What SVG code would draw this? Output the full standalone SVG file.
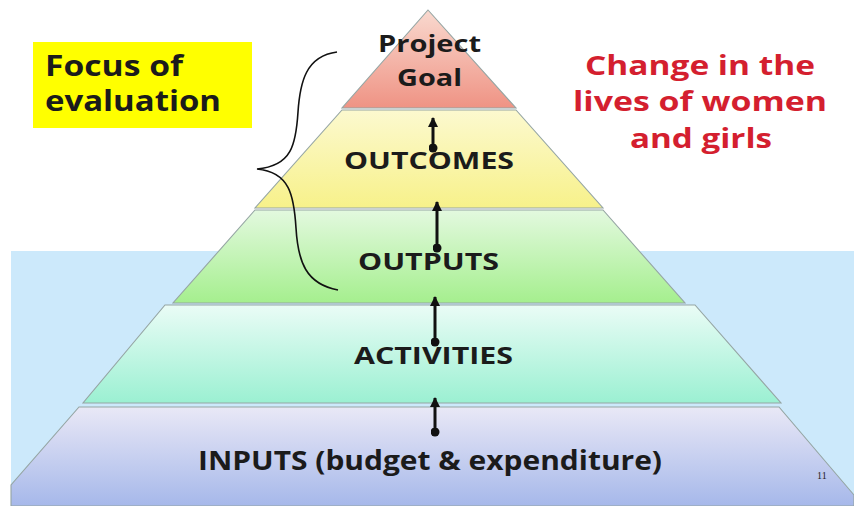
<svg xmlns="http://www.w3.org/2000/svg" width="854" height="506" viewBox="0 0 854 506">
  <defs>
    <linearGradient id="gGoal" x1="0" y1="0" x2="0" y2="1">
      <stop offset="0" stop-color="#f9d9cf"/>
      <stop offset="1" stop-color="#ef9384"/>
    </linearGradient>
    <linearGradient id="gOutcomes" x1="0" y1="0" x2="0" y2="1">
      <stop offset="0" stop-color="#fcf9cf"/>
      <stop offset="1" stop-color="#f7f18a"/>
    </linearGradient>
    <linearGradient id="gOutputs" x1="0" y1="0" x2="0" y2="1">
      <stop offset="0" stop-color="#e3f9df"/>
      <stop offset="1" stop-color="#a5ef8e"/>
    </linearGradient>
    <linearGradient id="gActivities" x1="0" y1="0" x2="0" y2="1">
      <stop offset="0" stop-color="#eafcf6"/>
      <stop offset="1" stop-color="#9bf0d2"/>
    </linearGradient>
    <linearGradient id="gInputs" x1="0" y1="0" x2="0" y2="1">
      <stop offset="0" stop-color="#e9e8f6"/>
      <stop offset="1" stop-color="#a6b8ea"/>
    </linearGradient>
    <marker id="head" viewBox="0 0 10 10" refX="9" refY="5" markerWidth="3.6" markerHeight="3.4" orient="auto">
      <path d="M0,0 L10,5 L0,10 Z" fill="#111"/>
    </marker>
    <marker id="dot" viewBox="0 0 10 10" refX="5" refY="5" markerWidth="3" markerHeight="3">
      <circle cx="5" cy="5" r="5" fill="#111"/>
    </marker>
  </defs>
  <style>
    .tier { stroke: #95a5a3; stroke-width: 1.1; }
    .lbl { font-family: "Open Sans", Lato, "Liberation Sans", sans-serif; font-weight: bold; fill: #1b1b1b; }
    .red { font-family: "Open Sans", Lato, "Liberation Sans", sans-serif; font-weight: bold; fill: #d41f2f; }
    .arrow { stroke: #111; stroke-width: 3; fill: none; marker-start: url(#dot); marker-end: url(#head); }
    .brace { stroke: #111; stroke-width: 1.6; fill: none; }
  </style>

  <!-- page and sea band -->
  <rect x="0" y="0" width="854" height="506" fill="#ffffff"/>
  <rect x="11" y="251" width="843" height="255" fill="#cce9fb"/>

  <g id="inputs">
    <polygon class="tier" points="79,407 779,407 854,495 854,506 11,506 11,485" fill="url(#gInputs)"/>
    <text class="lbl" x="198" y="470" font-size="26" textLength="464" lengthAdjust="spacingAndGlyphs">INPUTS (budget &amp; expenditure)</text>
  </g>

  <g id="activities">
    <polygon class="tier" points="165,305 695,305 781,403 83,403" fill="url(#gActivities)"/>
    <text class="lbl" x="354" y="364" font-size="24" textLength="159" lengthAdjust="spacingAndGlyphs">ACTIVITIES</text>
  </g>

  <g id="outputs">
    <polygon class="tier" points="255,210 603,210 685,303 173,303" fill="url(#gOutputs)"/>
    <text class="lbl" x="358" y="270" font-size="24" textLength="141" lengthAdjust="spacingAndGlyphs">OUTPUTS</text>
  </g>

  <g id="outcomes">
    <polygon class="tier" points="342,110 516,110 603,208 255,208" fill="url(#gOutcomes)"/>
    <text class="lbl" x="344" y="169" font-size="24" textLength="170" lengthAdjust="spacingAndGlyphs">OUTCOMES</text>
  </g>

  <g id="goal">
    <polygon class="tier" points="428,10 516,108 342,108" fill="url(#gGoal)"/>
    <text class="lbl" x="378" y="52" font-size="23" textLength="103" lengthAdjust="spacingAndGlyphs">Project</text>
    <text class="lbl" x="397" y="86" font-size="23" textLength="65" lengthAdjust="spacingAndGlyphs">Goal</text>
  </g>

  <g id="connectors">
    <line class="arrow" x1="433" y1="148" x2="433" y2="118"/>
    <line class="arrow" x1="437" y1="248" x2="437" y2="202"/>
    <line class="arrow" x1="435" y1="342" x2="435" y2="297"/>
    <line class="arrow" x1="435" y1="432" x2="435" y2="398"/>
  </g>

  <g id="focus">
    <rect x="33" y="42" width="219" height="86" fill="#ffff00"/>
    <text class="lbl" x="45" y="76" font-size="28" textLength="138" lengthAdjust="spacingAndGlyphs">Focus of</text>
    <text class="lbl" x="45" y="111" font-size="28" textLength="176" lengthAdjust="spacingAndGlyphs">evaluation</text>
    <path class="brace" d="M337,52 C306,56 300,82 298,112 C296,144 292,166 257,169 C290,172 294,196 296,228 C298,262 306,284 338,290"/>
  </g>

  <g id="change">
    <text class="red" x="585" y="75" font-size="26" textLength="230" lengthAdjust="spacingAndGlyphs">Change in the</text>
    <text class="red" x="573" y="111" font-size="26" textLength="254" lengthAdjust="spacingAndGlyphs">lives of women</text>
    <text class="red" x="630" y="148" font-size="26" textLength="142" lengthAdjust="spacingAndGlyphs">and girls</text>
  </g>

  <text x="817" y="479" font-family="Liberation Serif, serif" font-size="10" fill="#222">11</text>
</svg>
